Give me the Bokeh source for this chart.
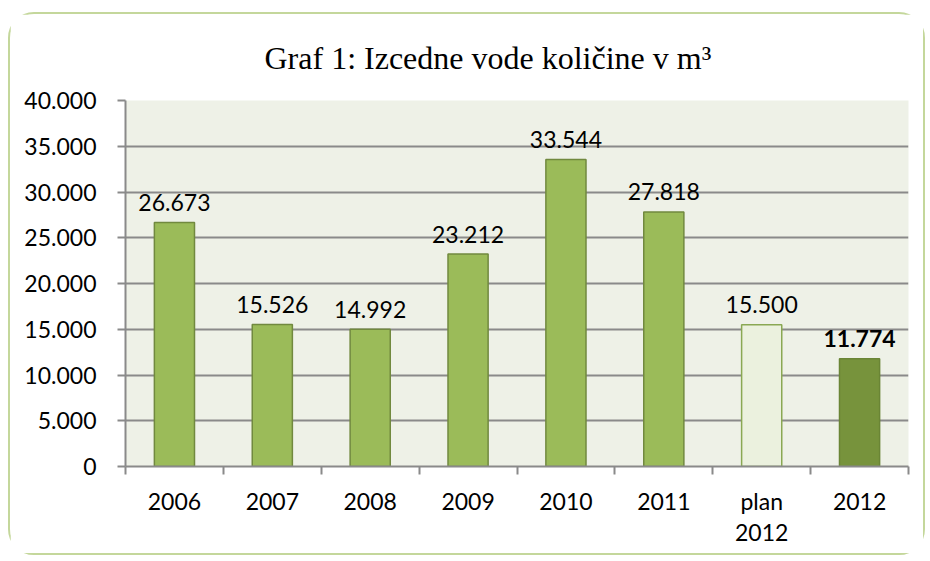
from bokeh.plotting import figure
from bokeh.models import Range1d, FixedTicker
from bokeh.core.properties import value
from bokeh.embed import file_html
from bokeh.resources import INLINE

title_text = "Graf 1: Izcedne vode količine v m³"
categories = ["2006", "2007", "2008", "2009", "2010", "2011", "plan\n2012", "2012"]
values = [26673, 15526, 14992, 23212, 33544, 27818, 15500, 11774]
value_labels = ["26.673", "15.526", "14.992", "23.212", "33.544", "27.818", "15.500", "11.774"]
label_weights = ["normal"] * 7 + ["bold"]
bar_fill = ["#9bbb59"] * 6 + ["#ebf1de", "#77933c"]
bar_line = ["#71893f"] * 6 + ["#8aa853", "#6a8535"]
y_ticks = [0, 5000, 10000, 15000, 20000, 25000, 30000, 35000, 40000]
y_tick_labels = ["0", "5.000", "10.000", "15.000", "20.000", "25.000", "30.000", "35.000", "40.000"]

xs = [i + 0.5 for i in range(len(categories))]
FONT = "Lato"
FSIZE = "23px"

p = figure(width=917, height=543, output_backend="svg", toolbar_location=None,
           x_range=Range1d(0, len(categories)), y_range=Range1d(0, 40000),
           title=title_text,
           min_border_left=115, min_border_right=19, min_border_top=85, min_border_bottom=91)
p.styles = {"border": "2px solid #c4d79b", "border-radius": "26px",
            "margin-top": "12px", "margin-left": "8px"}

p.title.align = "left"
p.title.offset = 139
p.title.vertical_align = "middle"
p.title.text_font = "Liberation Serif"
p.title.text_font_style = "normal"
p.title.text_font_size = "32px"
p.title.text_color = "#000000"
p.title.standoff = 48

p.background_fill_color = "#eef1e7"
p.border_fill_color = "white"
p.outline_line_color = None

p.xgrid.grid_line_color = None
p.ygrid.grid_line_color = "#8a8a8a"
p.ygrid.grid_line_width = 2
p.ygrid.ticker = FixedTicker(ticks=y_ticks)

p.vbar(x=xs, top=values, bottom=0, width=0.41, fill_color=bar_fill, line_color=bar_line, line_width=1.5)

p.text(x=xs, y=values, text=value_labels, text_align="center", text_baseline="alphabetic",
       y_offset=-20, text_font=value(FONT), text_font_size=FSIZE, text_color="black",
       text_font_style=label_weights)

ya = p.yaxis[0]
ya.ticker = FixedTicker(ticks=y_ticks)
ya.major_label_overrides = {t: l for t, l in zip(y_ticks, y_tick_labels)}
ya.axis_line_color = "#8a8a8a"
ya.axis_line_width = 2
ya.major_tick_line_color = "#8a8a8a"
ya.major_tick_line_width = 2
ya.major_tick_out = 8
ya.major_tick_in = 0
ya.minor_tick_line_color = None
ya.major_label_standoff = 21
ya.major_label_text_font = FONT
ya.major_label_text_font_size = FSIZE
ya.major_label_text_color = "black"

xa = p.xaxis[0]
xa.ticker = FixedTicker(ticks=xs, minor_ticks=list(range(len(categories) + 1)))
xa.major_label_overrides = {x: c for x, c in zip(xs, categories)}
xa.axis_line_color = "#8a8a8a"
xa.axis_line_width = 2
xa.major_tick_line_color = None
xa.major_tick_out = 0
xa.major_tick_in = 0
xa.minor_tick_line_color = "#8a8a8a"
xa.minor_tick_line_width = 2
xa.minor_tick_out = 8
xa.minor_tick_in = 0
xa.major_label_standoff = 12
xa.major_label_text_font = FONT
xa.major_label_text_font_size = FSIZE
xa.major_label_text_color = "black"
xa.major_label_text_line_height = 1.12

open("out.html", "w").write(file_html(p, INLINE))
